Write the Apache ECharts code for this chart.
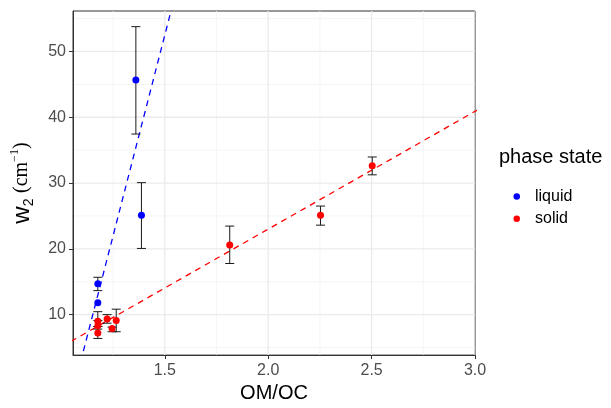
<!DOCTYPE html>
<html>
<head>
<meta charset="utf-8">
<script src="https://cdn.jsdelivr.net/npm/echarts@6/dist/echarts.min.js"></script>
<style>
html,body{margin:0;padding:0;background:#fff;}
#chart{width:611px;height:408px;}
</style>
</head>
<body>
<div id="chart"></div>
<script>
// ---- data ----
const liquidX = [1.360, 1.387, 1.176, 1.176];
const liquidY = [45.65, 25.10, 14.69, 11.80];
const liquidLow = [37.45, 20.06, 13.65, null];
const liquidHigh = [53.77, 30.06, 15.68, null];

const solidX = [1.176, 1.176, 1.176, 1.221, 1.245, 1.265, 1.814, 2.253, 2.503];
const solidY = [9.00, 8.30, 7.20, 9.35, 7.90, 9.10, 20.60, 25.10, 32.63];
const solidLow = [8.20, 7.80, 6.38, 8.70, 7.40, 7.40, 17.77, 23.60, 31.25];
const solidHigh = [10.45, 9.10, 8.20, 10.00, 8.10, 10.83, 23.46, 26.50, 33.96];

// linear fits: [slope, intercept]
const liquidFit = [122.0, -130.5];
const solidFit = [17.9, -12.8];
const fitXRange = [1.0, 3.1];

const xTicks = [1.5, 2.0, 2.5, 3.0];
const xMinor = [1.25, 1.75, 2.25, 2.75];
const yTicks = [10, 20, 30, 40, 50];
const yMinor = [5, 15, 25, 35, 45, 55];
const xLimits = [1.056, 3.0];
const yLimits = [3.85, 56.15];

// ---- build ----
function pts(xs, ys) { return xs.map((x, i) => [x, ys[i]]); }
function bars(xs, lo, hi) {
  const out = [];
  xs.forEach((x, i) => { if (lo[i] != null) out.push([x, lo[i], hi[i]]); });
  return out;
}
function fitLine(f) { return fitXRange.map(x => [x, f[0] * x + f[1]]); }

const gridData = []
  .concat(xMinor.map(v => [v, 0, 0]))
  .concat(yMinor.map(v => [v, 1, 0]))
  .concat(xTicks.map(v => [v, 0, 1]))
  .concat(yTicks.map(v => [v, 1, 1]));

function renderGrid(params, api) {
  const cs = params.coordSys;
  const v = api.value(0), orient = api.value(1), major = api.value(2);
  let shape;
  if (orient === 0) {
    const px = api.coord([v, yLimits[0]])[0];
    shape = { x1: px, y1: cs.y, x2: px, y2: cs.y + cs.height };
  } else {
    const py = api.coord([xLimits[0], v])[1];
    shape = { x1: cs.x, y1: py, x2: cs.x + cs.width, y2: py };
  }
  return {
    type: 'line', shape: shape,
    style: { stroke: major ? '#ebebeb' : '#f2f2f2', lineWidth: major ? 1.3 : 0.8 }
  };
}

function renderErr(params, api) {
  const x = api.value(0);
  const lo = api.coord([x, api.value(1)]);
  const hi = api.coord([x, api.value(2)]);
  const hw = 4.5;
  const st = { stroke: '#1a1a1a', lineWidth: 1 };
  return {
    type: 'group',
    children: [
      { type: 'line', shape: { x1: lo[0], y1: lo[1], x2: hi[0], y2: hi[1] }, style: st },
      { type: 'line', shape: { x1: lo[0] - hw, y1: lo[1], x2: lo[0] + hw, y2: lo[1] }, style: st },
      { type: 'line', shape: { x1: hi[0] - hw, y1: hi[1], x2: hi[0] + hw, y2: hi[1] }, style: st }
    ]
  };
}

const chart = echarts.init(document.getElementById('chart'), null, { renderer: 'canvas' });
const FONT = 'Liberation Sans, Arial, sans-serif';

chart.setOption({
  backgroundColor: '#fff',
  animation: false,
  title: {
    text: 'phase state', left: 499, top: 147, padding: 0,
    textStyle: { fontFamily: FONT, fontSize: 20, fontWeight: 'normal', color: '#000' }
  },
  legend: {
    orient: 'vertical', left: 508.5, top: 183.5,
    itemWidth: 6.5, itemHeight: 6.5, itemGap: 6.3,
    data: [{ name: 'liquid', icon: 'circle' }, { name: 'solid', icon: 'circle' }],
    textStyle: { fontFamily: FONT, fontSize: 16, color: '#000', lineHeight: 16, padding: [0, 0, 0, 10] }
  },
  grid: {
    left: 73, right: 136, top: 11, bottom: 44,
    show: true, borderColor: '#333', borderWidth: 1, backgroundColor: '#fff'
  },
  xAxis: {
    type: 'value', min: xLimits[0], max: xLimits[1],
    name: 'OM/OC', nameLocation: 'middle', nameGap: 24,
    nameTextStyle: { fontFamily: FONT, fontSize: 20, color: '#000' },
    axisLine: { show: true, onZero: false, lineStyle: { color: '#333', width: 1 } },
    axisTick: { show: true, length: 4, customValues: xTicks, lineStyle: { color: '#333' } },
    axisLabel: { customValues: xTicks, fontFamily: FONT, fontSize: 16, color: '#4d4d4d', margin: 7,
      formatter: v => v.toFixed(1) },
    splitLine: { show: false }
  },
  yAxis: {
    type: 'value', min: yLimits[0], max: yLimits[1],
    name: '{w|w}{sub|2}{sp| }{p|(cm}{sup|−1}{p|)}',
    nameLocation: 'middle', nameGap: 37, nameRotate: 90,
    nameTextStyle: {
      color: '#000',
      rich: {
        w: { fontFamily: FONT, fontSize: 24, lineHeight: 28, color: '#000' },
        sub: { fontFamily: FONT, fontSize: 14, lineHeight: 14, verticalAlign: 'bottom', color: '#000' },
        sp: { fontFamily: FONT, fontSize: 20, lineHeight: 28 },
        p: { fontFamily: 'Liberation Serif, DejaVu Serif, serif', fontSize: 20, lineHeight: 28, color: '#000' },
        sup: { fontFamily: 'Liberation Serif, DejaVu Serif, serif', fontSize: 12, lineHeight: 12, verticalAlign: 'top', padding: [1, 0, 0, 0], color: '#000' }
      }
    },
    axisLine: { show: true, onZero: false, lineStyle: { color: '#333', width: 1 } },
    axisTick: { show: true, length: 4, customValues: yTicks, lineStyle: { color: '#333' } },
    axisLabel: { customValues: yTicks, fontFamily: FONT, fontSize: 16, color: '#4d4d4d', margin: 7 },
    splitLine: { show: false }
  },
  series: [
    { type: 'custom', name: 'gridlines', silent: true, z: 0, renderItem: renderGrid,
      data: gridData, encode: { x: 0, y: 0 }, clip: true },
    { type: 'line', name: 'fitLiquid', data: fitLine(liquidFit), showSymbol: false, symbol: 'none',
      clip: true, z: 2, silent: true,
      lineStyle: { color: '#0000ff', width: 1.3, type: [6, 5] } },
    { type: 'line', name: 'fitSolid', data: fitLine(solidFit), showSymbol: false, symbol: 'none',
      clip: true, z: 2, silent: true,
      lineStyle: { color: '#ff0000', width: 1.3, type: [6, 5] } },
    { type: 'custom', name: 'errLiquid', renderItem: renderErr, data: bars(liquidX, liquidLow, liquidHigh),
      encode: { x: 0, y: [1, 2] }, z: 3, silent: true },
    { type: 'custom', name: 'errSolid', renderItem: renderErr, data: bars(solidX, solidLow, solidHigh),
      encode: { x: 0, y: [1, 2] }, z: 3, silent: true },
    { type: 'scatter', name: 'liquid', data: pts(liquidX, liquidY), symbolSize: 7, z: 4,
      itemStyle: { color: '#0000ff', opacity: 1 } },
    { type: 'scatter', name: 'solid', data: pts(solidX, solidY), symbolSize: 7, z: 4,
      itemStyle: { color: '#ff0000', opacity: 1 } }
  ]
});
</script>
</body>
</html>
